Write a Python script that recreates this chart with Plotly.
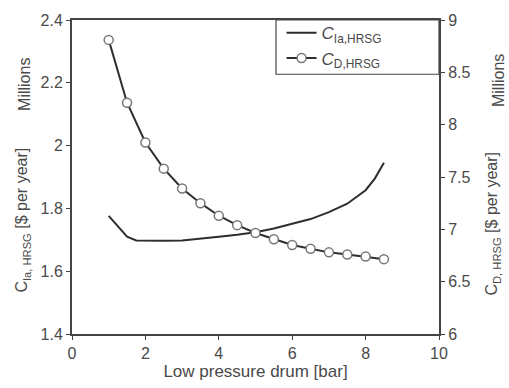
import plotly.graph_objects as go

# Data
pressure_d = [1, 1.5, 2, 2.5, 3, 3.5, 4, 4.5, 5, 5.5, 6, 6.5, 7, 7.5, 8, 8.5]
c_d_hrsg = [8.81, 8.21, 7.83, 7.58, 7.39, 7.25, 7.13, 7.04, 6.965, 6.905,
            6.85, 6.815, 6.78, 6.76, 6.74, 6.715]
pressure_ia = [1, 1.25, 1.5, 1.75, 2, 2.5, 3, 3.5, 4, 4.5, 5, 5.5, 6, 6.5,
               7, 7.5, 8, 8.25, 8.5]
c_ia_hrsg = [1.776, 1.742, 1.71, 1.698, 1.697, 1.697, 1.698, 1.705, 1.710,
             1.716, 1.724, 1.736, 1.750, 1.766, 1.788, 1.815, 1.858, 1.895, 1.945]

FONT = "Liberation Sans, Arial, sans-serif"
TXT = "#4a4a4a"
AX = "#444444"

fig = go.Figure()
fig.add_trace(go.Scatter(
    x=pressure_ia, y=c_ia_hrsg, mode="lines",
    name="<i>C</i><sub>Ia,HRSG</sub>",
    line=dict(color="#2e2e2e", width=2), yaxis="y"))
fig.add_trace(go.Scatter(
    x=pressure_d, y=c_d_hrsg, mode="lines+markers",
    name="<i>C</i><sub>D,HRSG</sub>",
    line=dict(color="#2e2e2e", width=2),
    marker=dict(symbol="circle", size=9, color="white",
                line=dict(color="#777777", width=1.5)),
    yaxis="y2"))

axis_common = dict(showline=True, linecolor=AX, linewidth=2, ticks="outside",
                   ticklen=4, tickcolor=AX, tickwidth=1, showgrid=False,
                   zeroline=False, tickfont=dict(family=FONT, size=16, color=TXT))

fig.update_layout(
    width=509, height=388,
    margin=dict(l=72, r=70, t=18, b=46),
    plot_bgcolor="white", paper_bgcolor="white",
    showlegend=True,
    legend=dict(x=0.571, y=1.015, xanchor="left", yanchor="top",
                bgcolor="rgba(0,0,0,0)", borderwidth=0,
                font=dict(family=FONT, size=17, color=TXT),
                itemwidth=30, tracegroupgap=0),
    xaxis=dict(range=[0, 10], dtick=2, mirror=True,
               title=dict(text="Low pressure drum [bar]", standoff=2,
                          font=dict(family=FONT, size=17, color=TXT)),
               **axis_common),
    yaxis=dict(range=[1.4, 2.4], dtick=0.2, **axis_common),
    yaxis2=dict(range=[6, 9], dtick=0.5, overlaying="y", side="right",
                **axis_common),
)

# legend frame
fig.add_shape(type="rect", xref="paper", yref="paper",
              x0=(276 - 72) / 367, x1=1.0, y0=(342 - 74) / 324, y1=1.0,
              line=dict(color=AX, width=1.2), fillcolor="rgba(0,0,0,0)")

ann_font = dict(family=FONT, size=16, color=TXT)
fig.add_annotation(text="Millions", xref="paper", yref="paper",
                   x=(25 - 72) / 367, y=(342 - 85) / 324, textangle=-90,
                   showarrow=False, font=ann_font, xanchor="center", yanchor="middle")
fig.add_annotation(text="C<sub>Ia, HRSG</sub> [$ per year]", xref="paper", yref="paper",
                   x=(23 - 72) / 367, y=(342 - 225) / 324, textangle=-90,
                   showarrow=False, font=ann_font, xanchor="center", yanchor="middle")
fig.add_annotation(text="Millions", xref="paper", yref="paper",
                   x=(498 - 72) / 367, y=(342 - 81) / 324, textangle=-90,
                   showarrow=False, font=ann_font, xanchor="center", yanchor="middle")
fig.add_annotation(text="C<sub>D, HRSG</sub> [$ per year]", xref="paper", yref="paper",
                   x=(493 - 72) / 367, y=(342 - 228) / 324, textangle=-90,
                   showarrow=False, font=ann_font, xanchor="center", yanchor="middle")

fig.write_html("out.html")
